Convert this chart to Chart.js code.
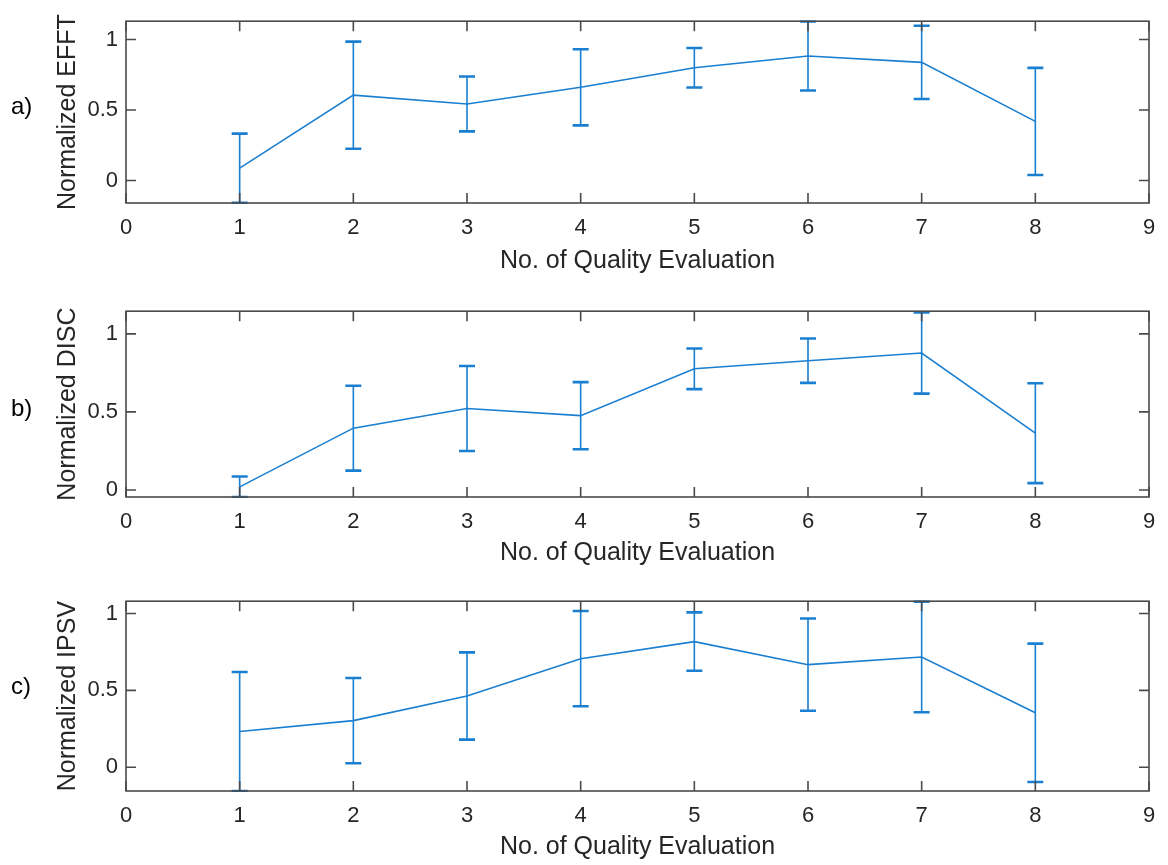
<!DOCTYPE html>
<html>
<head>
<meta charset="utf-8">
<script src="https://cdn.jsdelivr.net/npm/chart.js@4.4.1/dist/chart.umd.min.js"></script>
<style>
  html, body { margin: 0; padding: 0; background: #fff; }
  canvas { position: absolute; left: 0; }
</style>
</head>
<body>
<canvas id="chart-a" width="1168" height="290" style="top:0px"></canvas>
<canvas id="chart-b" width="1168" height="290" style="top:290px"></canvas>
<canvas id="chart-c" width="1168" height="285" style="top:580px"></canvas>
<script>
// x positions and tick labels
const evaluations = [1, 2, 3, 4, 5, 6, 7, 8];
const xTickValues = [0, 1, 2, 3, 4, 5, 6, 7, 8, 9];
const yTickValues = [0, 0.5, 1];

// a) EFFT
const effftMean = [0.087, 0.605, 0.543, 0.661, 0.8, 0.883, 0.838, 0.419];
const effftErr = [0.245, 0.38, 0.195, 0.27, 0.14, 0.245, 0.26, 0.38];
const effftRange = [-0.16, 1.13];

// b) DISC
const discMean = [0.02, 0.396, 0.522, 0.476, 0.776, 0.828, 0.877, 0.364];
const discErr = [0.066, 0.272, 0.272, 0.215, 0.13, 0.142, 0.26, 0.32];
const discRange = [-0.045, 1.145];

// c) IPSV
const ipsvMean = [0.232, 0.303, 0.463, 0.706, 0.817, 0.667, 0.717, 0.354];
const ipsvErr = [0.387, 0.277, 0.284, 0.31, 0.19, 0.3, 0.36, 0.45];
const ipsvRange = [-0.155, 1.08];

const xTitle = "No. of Quality Evaluation";

const LINE_COLOR = "#1a7fd0";
const AXIS_COLOR = "#4a4a4a";
const TEXT_COLOR = "#262626";
const FONT = "'Liberation Sans', Arial, Helvetica, sans-serif";

/**
 * Draws MATLAB style box, inward ticks, error bars and the panel letter
 */
const matlabAxes = {
  id: "matlabAxes",
  afterDatasetsDraw(chart, args, opts) {
    const { ctx, chartArea: a, scales: { x, y } } = chart;

    // error bars, clipped to the axes box
    ctx.save();
    ctx.beginPath();
    ctx.rect(a.left, a.top - 1, a.right - a.left, a.bottom - a.top + 2);
    ctx.clip();
    ctx.strokeStyle = LINE_COLOR;
    opts.mean.forEach((m, i) => {
      const px = x.getPixelForValue(evaluations[i]);
      const top = y.getPixelForValue(m + opts.err[i]);
      const bot = y.getPixelForValue(m - opts.err[i]);
      ctx.lineWidth = 1.6;
      ctx.beginPath();
      ctx.moveTo(px, top);
      ctx.lineTo(px, bot);
      ctx.stroke();
      ctx.lineWidth = 2.6;
      ctx.beginPath();
      ctx.moveTo(px - 8, top);
      ctx.lineTo(px + 8, top);
      ctx.moveTo(px - 8, bot);
      ctx.lineTo(px + 8, bot);
      ctx.stroke();
    });
    ctx.restore();

    // box and inward ticks
    ctx.save();
    ctx.strokeStyle = AXIS_COLOR;
    ctx.lineWidth = 1.6;
    ctx.strokeRect(a.left, a.top, a.right - a.left, a.bottom - a.top);
    ctx.beginPath();
    x.ticks.forEach((t) => {
      const px = x.getPixelForValue(t.value);
      ctx.moveTo(px, a.bottom);
      ctx.lineTo(px, a.bottom - 10);
      ctx.moveTo(px, a.top);
      ctx.lineTo(px, a.top + 10);
    });
    y.ticks.forEach((t) => {
      const py = y.getPixelForValue(t.value);
      ctx.moveTo(a.left, py);
      ctx.lineTo(a.left + 10, py);
      ctx.moveTo(a.right, py);
      ctx.lineTo(a.right - 10, py);
    });
    ctx.stroke();

    // panel letter
    ctx.fillStyle = "#000";
    ctx.font = "24px " + FONT;
    ctx.textAlign = "left";
    ctx.textBaseline = "middle";
    ctx.fillText(opts.label, 11, y.getPixelForValue(0.5) - 3);
    ctx.restore();
  },
};

function makePanel(id, mean, err, range, yTitle, label, box) {
  const ctx = document.getElementById(id);
  return new Chart(ctx, {
    type: "line",
    data: {
      datasets: [
        {
          data: evaluations.map((v, i) => ({ x: v, y: mean[i] })),
          borderColor: LINE_COLOR,
          borderWidth: 1.6,
          pointRadius: 0,
          tension: 0,
          fill: false,
        },
      ],
    },
    options: {
      responsive: false,
      animation: false,
      layout: {
        padding: { top: box.top, right: 19, bottom: 0, left: 0 },
      },
      plugins: {
        legend: { display: false },
        tooltip: { enabled: false },
        matlabAxes: { mean: mean, err: err, label: label },
      },
      scales: {
        x: {
          type: "linear",
          min: 0,
          max: 9,
          grid: { display: false, drawTicks: false },
          border: { display: false },
          afterBuildTicks: (scale) => {
            scale.ticks = xTickValues.map((v) => ({ value: v }));
          },
          afterFit: (scale) => {
            scale.height = box.xHeight;
          },
          ticks: {
            padding: 12,
            maxRotation: 0,
            color: TEXT_COLOR,
            font: { family: FONT, size: 22 },
            callback: (v) => String(v),
          },
          title: {
            display: true,
            text: xTitle,
            color: TEXT_COLOR,
            font: { family: FONT, size: 25 },
            padding: { top: 0, bottom: box.titlePad },
          },
        },
        y: {
          type: "linear",
          min: range[0],
          max: range[1],
          grid: { display: false, drawTicks: false },
          border: { display: false },
          afterBuildTicks: (scale) => {
            scale.ticks = yTickValues.map((v) => ({ value: v }));
          },
          afterFit: (scale) => {
            scale.width = 126;
          },
          ticks: {
            padding: 8,
            color: TEXT_COLOR,
            font: { family: FONT, size: 22 },
            callback: (v) => String(v),
          },
          title: {
            display: true,
            text: yTitle,
            color: TEXT_COLOR,
            font: { family: FONT, size: 25 },
            padding: { top: 53, bottom: 0 },
          },
        },
      },
    },
    plugins: [matlabAxes],
  });
}

makePanel("chart-a", effftMean, effftErr, effftRange, "Normalized EFFT", "a)",
  { top: 11, xHeight: 87, titlePad: 14 });
makePanel("chart-b", discMean, discErr, discRange, "Normalized DISC", "b)",
  { top: 14, xHeight: 83, titlePad: 12 });
makePanel("chart-c", ipsvMean, ipsvErr, ipsvRange, "Normalized IPSV", "c)",
  { top: 18, xHeight: 74, titlePad: 3 });
</script>
</body>
</html>
